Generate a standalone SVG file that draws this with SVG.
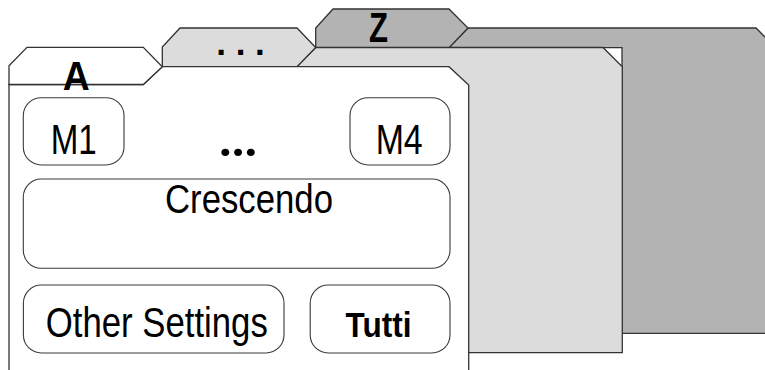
<svg xmlns="http://www.w3.org/2000/svg" width="765" height="370" viewBox="0 0 765 370">
<style>
.card{stroke:#333;stroke-width:1.3;stroke-linejoin:miter}
.dark{fill:#b3b3b3}
.light{fill:#dcdcdc}
.white{fill:#fff}
.btn{fill:#fff;stroke:#3a3a3a;stroke-width:1.1}
.t{font-family:"Liberation Sans",Arial,sans-serif;fill:#000;text-anchor:middle}
.b{font-weight:bold}
</style>
<rect width="765" height="370" fill="#fff"/>
<g id="card-z">
<polygon class="card dark" points="449,47.7 468,28 756,28 775,47 775,333.3 622,333.3 622,47.7"/>
<polygon class="card dark" points="315.7,47.7 315.7,28 333,9 449,9 468,28 449,47.7"/>
<text class="t b" x="378.5" y="42.3" font-size="42" textLength="19" lengthAdjust="spacingAndGlyphs">Z</text>
</g>
<g id="card-dots">
<polygon class="card light" points="297,66.7 315.7,47.5 603,47.5 622.3,66.7 622.3,352.7 400,352.7 400,66.7"/>
<polygon class="card light" points="162.3,66.7 162.3,47 180,28 297,28 315.7,47.5 297,66.7"/>
<text class="t b" x="240.5" y="55" font-size="35">. . .</text>
</g>
<g id="card-a">
<polygon class="card white" points="9,375 9,84.5 143.3,84.5 162.3,66.7 449,66.7 468.7,85 468.7,375"/>
<polygon class="card white" points="9,84.5 9,65.7 27,47.3 143.3,47.3 162.3,66.7 143.3,84.5"/>
<text class="t b" x="76.3" y="89.5" font-size="40" textLength="27" lengthAdjust="spacingAndGlyphs">A</text>
</g>
<g id="m1">
<rect class="btn" x="23.3" y="97.7" width="100.7" height="67.3" rx="18" ry="18"/>
<text class="t" x="73.7" y="153.5" font-size="43" textLength="46" lengthAdjust="spacingAndGlyphs">M1</text>
</g>
<g id="ellipsis">
<text x="238.3" y="156" font-family="Roboto,'Noto Sans',sans-serif" font-weight="bold" font-size="50" text-anchor="middle" textLength="40" lengthAdjust="spacing">...</text>
</g>
<g id="m4">
<rect class="btn" x="350" y="97.7" width="100" height="67.3" rx="18" ry="18"/>
<text class="t" x="399.2" y="153.5" font-size="43" textLength="47" lengthAdjust="spacingAndGlyphs">M4</text>
</g>
<g id="crescendo">
<rect class="btn" x="23.3" y="179" width="426.7" height="89.3" rx="18" ry="18"/>
<text class="t" x="249" y="213.3" font-size="40" textLength="168" lengthAdjust="spacingAndGlyphs">Crescendo</text>
</g>
<g id="other-settings">
<rect class="btn" x="23.4" y="285" width="260.6" height="68" rx="18" ry="18"/>
<text class="t" x="156.8" y="337.3" font-size="42" textLength="222" lengthAdjust="spacingAndGlyphs">Other Settings</text>
</g>
<g id="tutti">
<rect class="btn" x="310.2" y="285" width="139.8" height="68" rx="18" ry="18"/>
<text class="t b" x="378.5" y="337" font-size="35" textLength="66" lengthAdjust="spacingAndGlyphs">Tutti</text>
</g>
<g id="connectors"/>
</svg>
